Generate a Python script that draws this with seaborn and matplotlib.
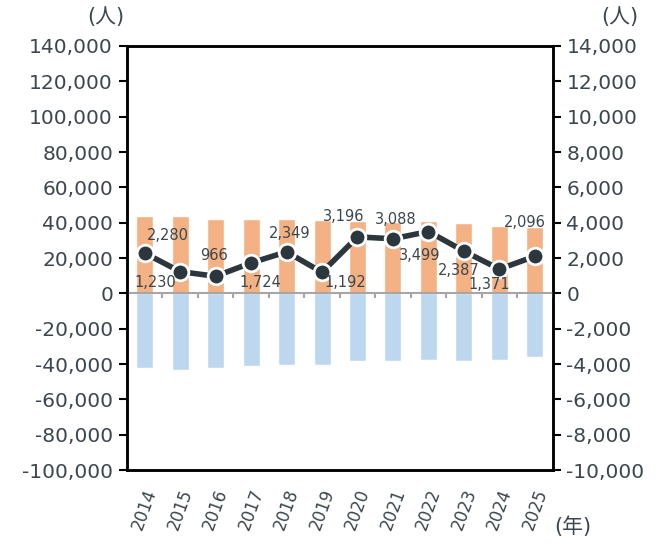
import numpy as np
import pandas as pd
import matplotlib
matplotlib.use("Agg")
import matplotlib.pyplot as plt
import seaborn as sns
from matplotlib.ticker import FuncFormatter, FixedLocator

# Data
years = ["2014", "2015", "2016", "2017", "2018", "2019",
         "2020", "2021", "2022", "2023", "2024", "2025"]
inflow = [43700, 43700, 42300, 42300, 42300, 41300,
          40900, 40500, 40700, 39800, 38300, 37500]
outflow = [-42300, -43400, -42100, -41100, -40600, -40600,
           -38500, -38300, -37900, -38300, -37500, -36000]
net = [2280, 1230, 966, 1724, 2349, 1192,
       3196, 3088, 3499, 2387, 1371, 2096]
label_offsets = [(17, 13), (-18, -8), (-1.5, 15), (7, -14), (2, 13), (17, -7),
                 (-10, 15), (2, 14), (-6, -17), (-4, -14), (-7, -11), (-7, 24)]

sns.set_theme(style="white")
plt.rcParams["font.family"] = ["DejaVu Sans", "Noto Sans CJK JP"]

text_color = "#3B474D"
orange = "#F4B183"
blue = "#BDD7EE"
line_color = "#2B373C"

df = pd.DataFrame({"year": years, "inflow": inflow, "outflow": outflow, "net": net})

fig = plt.figure(figsize=(6.61, 5.45), dpi=100)
ax = fig.add_axes([0.192, 0.1376, 0.644, 0.778])

sns.barplot(data=df, x="year", y="inflow", color=orange, width=0.48,
            saturation=1, ax=ax, zorder=2)
sns.barplot(data=df, x="year", y="outflow", color=blue, width=0.48,
            saturation=1, ax=ax, zorder=2)

ax.set_ylim(-100000, 140000)
ax.set_xlim(-0.5, len(years) - 0.5)
ax.yaxis.set_major_locator(FixedLocator(np.arange(-100000, 140001, 20000)))
ax.yaxis.set_major_formatter(FuncFormatter(lambda v, p: f"{int(v):,}"))
ax.set_xlabel("")
ax.set_ylabel("")

# zero baseline with category-boundary ticks
ax.axhline(0, color="#A6A6A6", lw=1.5, zorder=3)
ax.vlines(np.arange(len(years) + 1) - 0.5, -2600, 0, color="#A6A6A6", lw=1.5, zorder=3)

for s in ax.spines.values():
    s.set_color("black")
    s.set_linewidth(1.8)

ax.tick_params(axis="y", which="major", direction="out", length=6, width=1.5,
               color="black", labelsize=14.5, labelcolor=text_color, pad=4, left=True)
ax.tick_params(axis="x", length=0, labelsize=12, labelcolor=text_color, pad=12)
for lbl in ax.get_xticklabels():
    lbl.set_rotation(70)
    lbl.set_ha("center")
    lbl.set_va("top")

# net change on secondary axis
ax2 = ax.twinx()
sns.lineplot(x=np.arange(len(years)), y=net, ax=ax2, color=line_color, lw=4,
             marker="o", markersize=12, markerfacecolor=line_color,
             markeredgecolor="white", markeredgewidth=2, zorder=5)
ax2.set_ylim(-10000, 14000)
ax2.yaxis.set_major_locator(FixedLocator(np.arange(-10000, 14001, 2000)))
ax2.yaxis.set_major_formatter(FuncFormatter(lambda v, p: f"{int(v):,}"))
ax2.tick_params(axis="y", direction="out", length=6, width=1.5, color="black",
                labelsize=14.5, labelcolor=text_color, pad=4, right=True)
ax2.set_ylabel("")
for s in ax2.spines.values():
    s.set_color("black")
    s.set_linewidth(1.8)

for i, (v, off) in enumerate(zip(net, label_offsets)):
    ax2.annotate(f"{v:,}", (i, v), xytext=off, textcoords="offset points",
                 ha="center", va="center", fontsize=10.5, color=text_color, zorder=6)

fig.text(106 / 661, 1 - 17 / 545, "(人)", ha="center", va="center",
         fontsize=15, color=text_color)
fig.text(620 / 661, 1 - 17 / 545, "(人)", ha="center", va="center",
         fontsize=15, color=text_color)
fig.text(573 / 661, 1 - 527 / 545, "(年)", ha="center", va="center",
         fontsize=15, color=text_color)

fig.savefig("out.png", dpi=100)
